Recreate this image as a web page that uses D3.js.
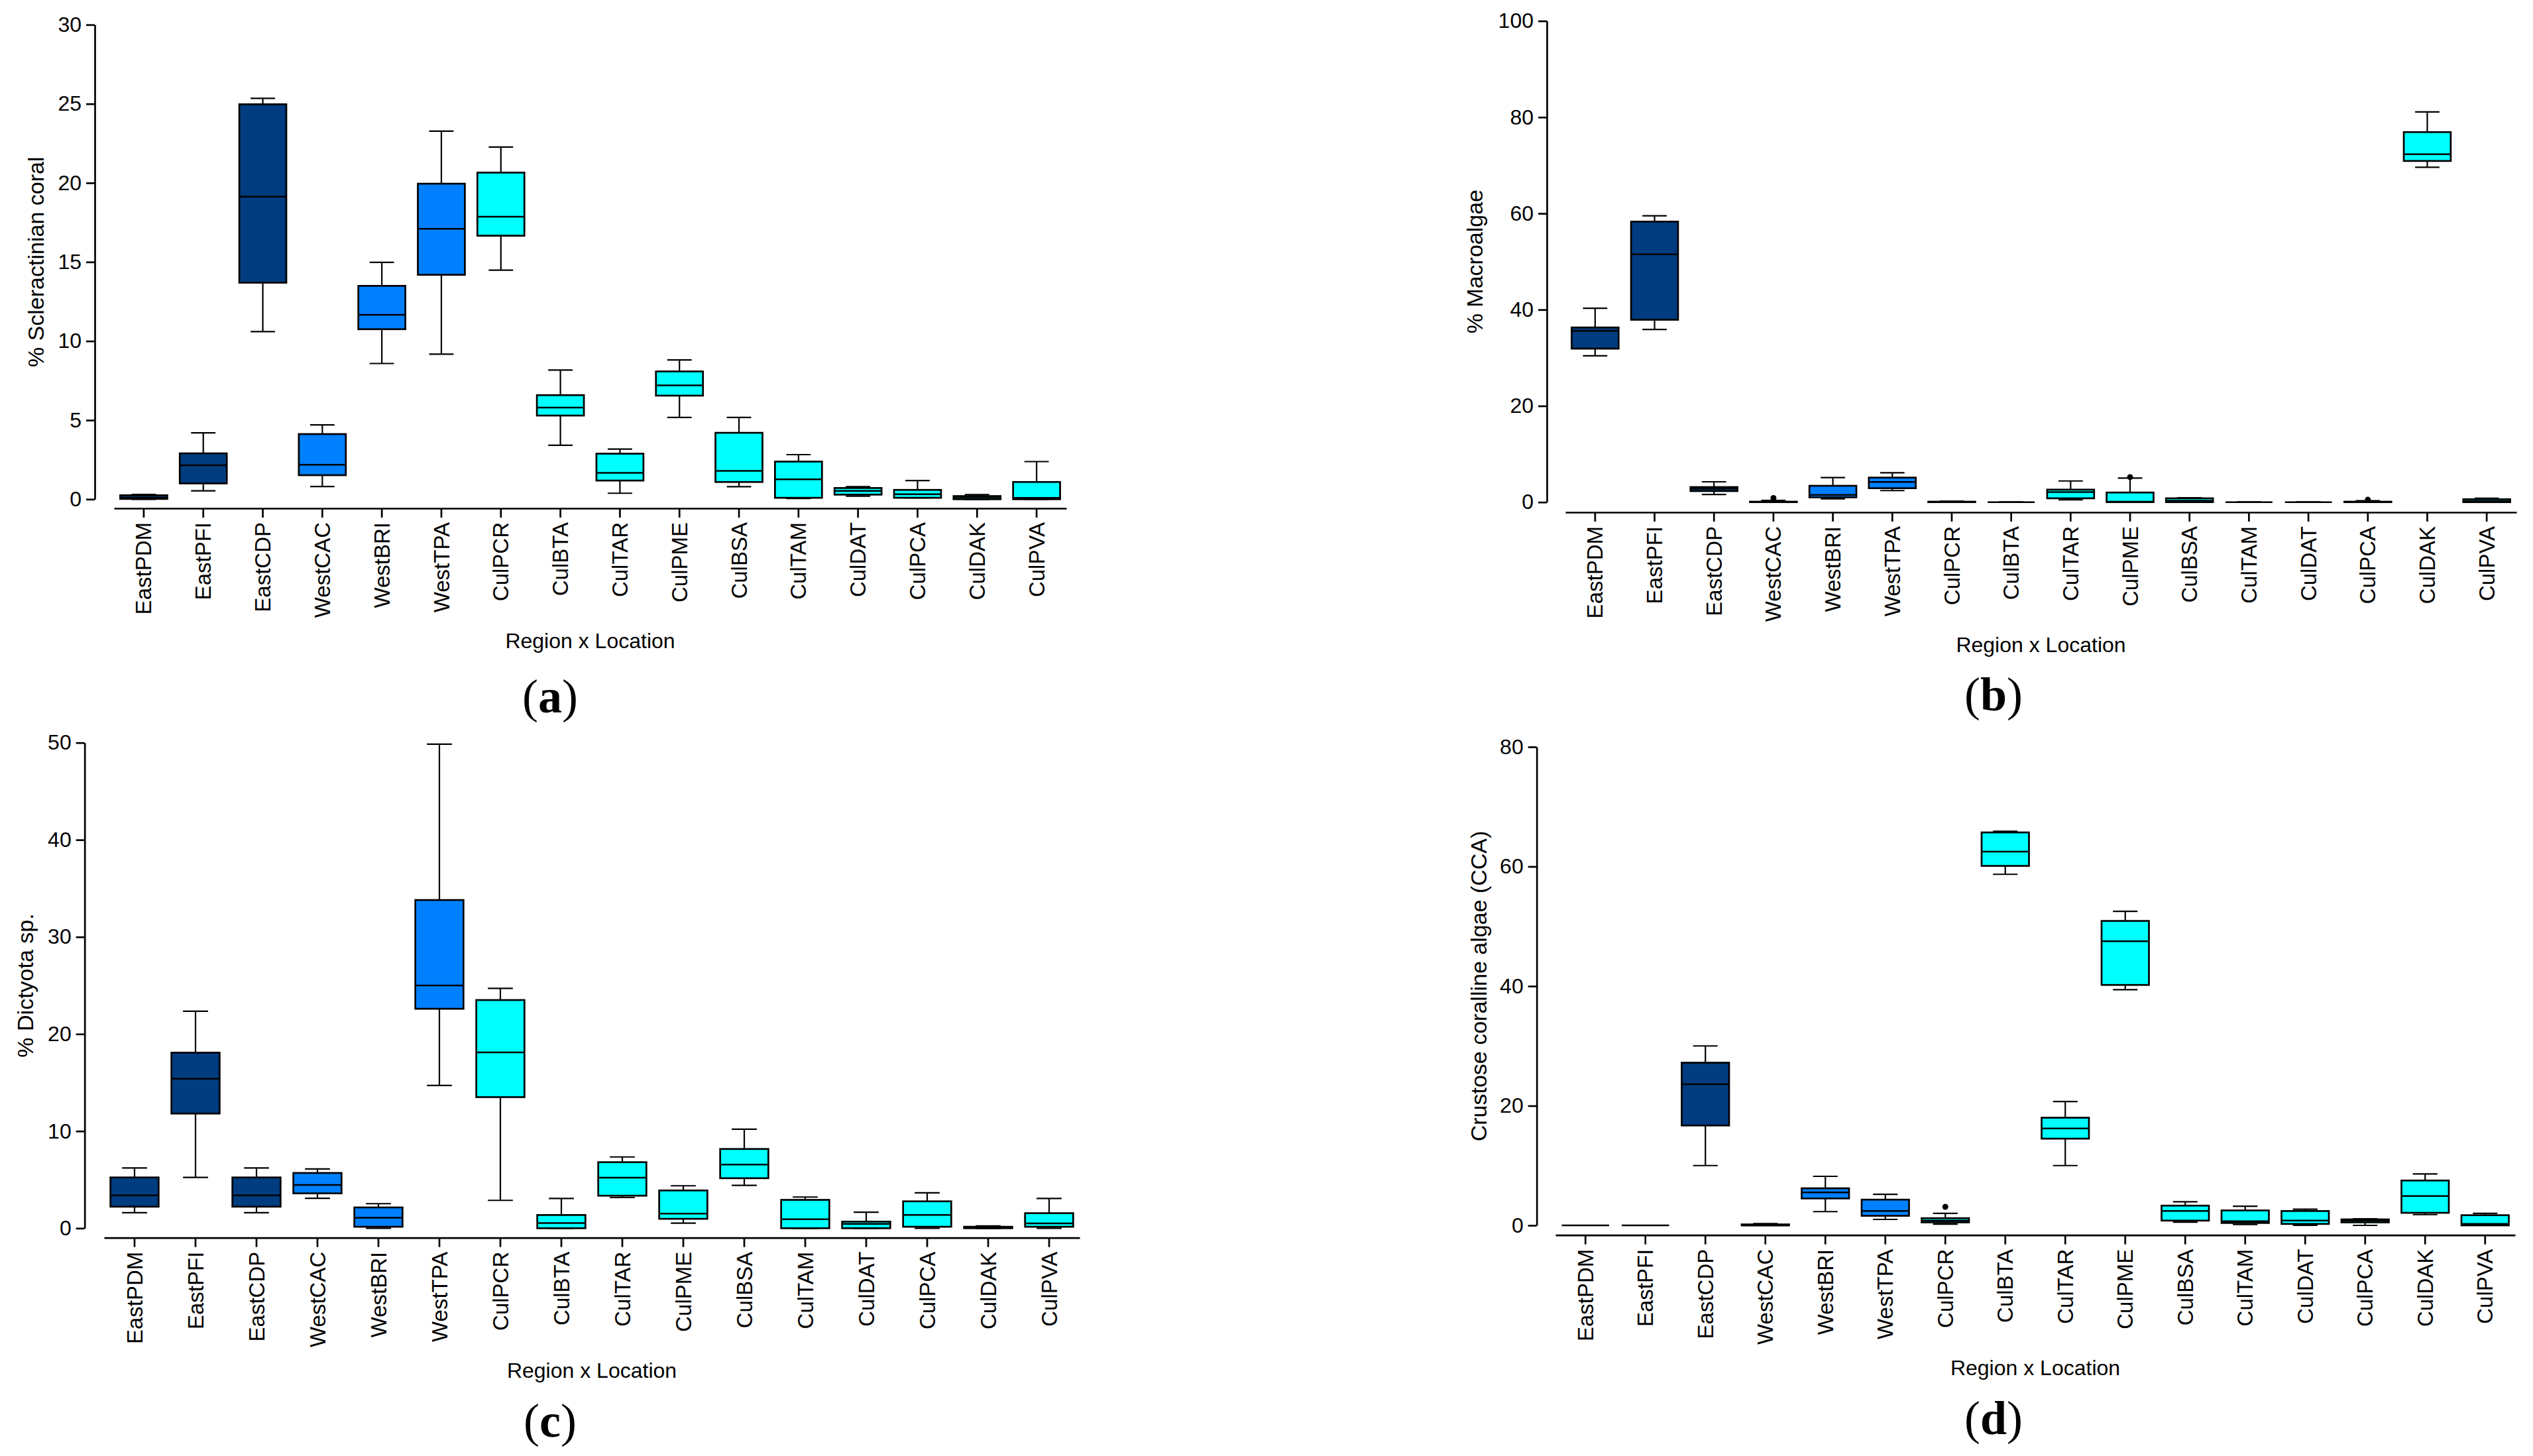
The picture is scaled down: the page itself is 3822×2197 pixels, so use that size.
<!DOCTYPE html>
<html>
<head>
<meta charset="utf-8">
<script src="https://cdn.jsdelivr.net/npm/d3@7"></script>
<style>
body { margin: 0; background: #fff; }
text { font-family: "Liberation Sans", Arial, sans-serif; fill: #000; }
</style>
</head>
<body>
<svg id="chart" width="3822" height="2197"></svg>
<script>
// categories along every x axis
const categories = ["EastPDM", "EastPFI", "EastCDP", "WestCAC", "WestBRI", "WestTPA",
    "CulPCR", "CulBTA", "CulTAR", "CulPME", "CulBSA", "CulTAM", "CulDAT", "CulPCA", "CulDAK", "CulPVA"]
const regions = ["East", "East", "East", "West", "West", "West",
    "Cul", "Cul", "Cul", "Cul", "Cul", "Cul", "Cul", "Cul", "Cul", "Cul"]

// box stats per category: [min, q1, median, q3, max]
const coralStats = [
    [0, 0.02, 0.1, 0.25, 0.3], [0.53, 1.0, 2.15, 2.9, 4.2], [10.6, 13.69, 19.13, 24.97, 25.35],
    [0.8, 1.52, 2.18, 4.12, 4.7], [8.58, 10.75, 11.66, 13.49, 14.98], [9.17, 14.19, 17.1, 19.95, 23.27],
    [14.48, 16.66, 17.86, 20.65, 22.27], [3.41, 5.29, 5.79, 6.58, 8.17], [0.38, 1.18, 1.67, 2.88, 3.17],
    [5.17, 6.55, 7.2, 8.08, 8.81], [0.79, 1.09, 1.79, 4.2, 5.17], [0.05, 0.09, 1.26, 2.38, 2.82],
    [0.2, 0.29, 0.53, 0.71, 0.79], [0.09, 0.09, 0.32, 0.59, 1.18], [0, 0, 0.12, 0.2, 0.29],
    [0, 0, 0.09, 1.09, 2.38]]
const macroStats = [
    [30.4, 31.9, 35.6, 36.3, 40.3], [35.9, 37.9, 51.5, 58.3, 59.5], [1.6, 2.3, 2.8, 3.13, 4.23],
    [0, 0, 0, 0.1, 0.35], [0.7, 1.0, 1.5, 3.4, 5.1], [2.4, 2.9, 4.2, 5.1, 6.1],
    [0, 0, 0, 0.1, 0.2], [0, 0, 0, 0, 0], [0.5, 0.8, 2.1, 2.6, 4.4],
    [0, 0, 0.1, 2.0, 5.0], [0, 0, 0.3, 0.8, 0.9], [0, 0, 0, 0, 0],
    [0, 0, 0, 0, 0], [0, 0, 0, 0.1, 0.3], [69.6, 70.9, 72.3, 76.9, 81.1],
    [0, 0, 0.2, 0.6, 0.8]]
const dictyotaStats = [
    [1.6, 2.22, 3.39, 5.23, 6.21], [5.23, 11.81, 15.4, 18.08, 22.35], [1.6, 2.22, 3.39, 5.23, 6.21],
    [3.09, 3.59, 4.46, 5.69, 6.1], [0, 0.15, 1.07, 2.14, 2.53], [14.7, 22.6, 25.0, 33.8, 49.85],
    [2.87, 13.5, 18.1, 23.5, 24.7], [0, 0, 0.53, 1.36, 3.06], [3.16, 3.35, 5.2, 6.8, 7.34],
    [0.53, 0.97, 1.51, 3.89, 4.37], [4.42, 5.15, 6.56, 8.16, 10.2], [0, 0, 0.92, 2.92, 3.21],
    [0, 0, 0.44, 0.68, 1.65], [0, 0.15, 1.36, 2.77, 3.64], [0, 0, 0.05, 0.15, 0.24],
    [0, 0.15, 0.49, 1.55, 3.06]]
const ccaStats = [
    [0, 0, 0, 0, 0], [0, 0, 0, 0, 0], [10.0, 16.7, 23.6, 27.2, 30.0],
    [0, 0, 0, 0.16, 0.3], [2.3, 4.5, 5.5, 6.2, 8.2], [1.0, 1.6, 2.4, 4.3, 5.2],
    [0.2, 0.5, 0.8, 1.2, 2.0], [58.7, 60.1, 62.5, 65.7, 65.9], [10.0, 14.5, 16.2, 18.0, 20.7],
    [39.4, 40.2, 47.5, 50.9, 52.5], [0.55, 0.8, 2.4, 3.3, 3.95], [0.16, 0.4, 0.7, 2.5, 3.2],
    [0, 0.24, 0.8, 2.4, 2.7], [0, 0.5, 0.8, 1.0, 1.1], [1.8, 2.1, 4.9, 7.5, 8.6],
    [0, 0, 0.24, 1.7, 2.0]]

// outlier points: [category, value]
const coralOutliers = []
const macroOutliers = [["WestCAC", 0.85], ["CulPME", 5.2], ["CulPCA", 0.5]]
const dictyotaOutliers = []
const ccaOutliers = [["CulPCR", 3.1]]

// y axis ticks
const coralTicks = [0, 5, 10, 15, 20, 25, 30]
const macroTicks = [0, 20, 40, 60, 80, 100]
const dictyotaTicks = [0, 10, 20, 30, 40, 50]
const ccaTicks = [0, 20, 40, 60, 80]

const regionColor = {East: "#003c7f", West: "#0080ff", Cul: "#00ffff"}

const panels = [
    {label: "a", stats: coralStats, outliers: coralOutliers, ticks: coralTicks, title: "% Scleractinian coral",
        axisX: 143, yTop: 37.3, yZero: 753.3, xLeft: 172, xRight: 1609, xAxisY: 767, titleX: 54, labelX: 830, labelY: 1075},
    {label: "b", stats: macroStats, outliers: macroOutliers, ticks: macroTicks, title: "% Macroalgae",
        axisX: 2334, yTop: 31.6, yZero: 757.7, xLeft: 2362, xRight: 3797, xAxisY: 773, titleX: 2225, labelX: 3008, labelY: 1072},
    {label: "c", stats: dictyotaStats, outliers: dictyotaOutliers, ticks: dictyotaTicks, title: "% Dictyota sp.",
        axisX: 127.7, yTop: 1120.7, yZero: 1853.3, xLeft: 157, xRight: 1629, xAxisY: 1867.7, titleX: 38, labelX: 830, labelY: 2168},
    {label: "d", stats: ccaStats, outliers: ccaOutliers, ticks: ccaTicks, title: "Crustose coralline algae (CCA)",
        axisX: 2318.7, yTop: 1127, yZero: 1849, xLeft: 2347, xRight: 3795, xAxisY: 1863.7, titleX: 2231, labelX: 3008, labelY: 2164}
]

const svg = d3.select("#chart")

panels.forEach(p => {
    let g = svg.append("g")

    let yScale = d3.scaleLinear()
        .domain([0, d3.max(p.ticks)])
        .range([p.yZero, p.yTop])

    let xScale = d3.scaleBand()
        .domain(categories)
        .range([p.xLeft, p.xRight])
        .padding(0)

    let bw = xScale.bandwidth()
    let boxW = bw * 0.79
    let capW = bw * 0.41
    let cx = d => xScale(d) + bw / 2

    let rows = p.stats.map((s, i) => ({cat: categories[i], region: regions[i],
        min: s[0], q1: s[1], median: s[2], q3: s[3], max: s[4]}))

    // y axis
    let yAxis = g.append("g")
        .attr("transform", `translate(${p.axisX},0)`)
        .call(d3.axisLeft(yScale).tickValues(p.ticks).tickSize(13).tickSizeOuter(0).tickPadding(7))
    yAxis.select(".domain").attr("stroke-width", 2.7)
    yAxis.selectAll(".tick line").attr("stroke-width", 2.7)
    yAxis.selectAll(".tick text")
        .attr("font-size", 32)
        .attr("font-family", "Liberation Sans, Arial, sans-serif")

    // x axis
    let xAxis = g.append("g")
        .attr("transform", `translate(0,${p.xAxisY})`)
        .call(d3.axisBottom(xScale).tickSize(14).tickSizeOuter(0))
    xAxis.select(".domain").attr("stroke-width", 2.7)
    xAxis.selectAll(".tick line").attr("stroke-width", 2.7)
    xAxis.selectAll(".tick text")
        .attr("font-size", 33)
        .attr("font-family", "Liberation Sans, Arial, sans-serif")
        .attr("transform", "rotate(-90)")
        .attr("text-anchor", "end")
        .attr("x", -21)
        .attr("y", 0)
        .attr("dy", "0.35em")

    // whiskers
    g.append("g").selectAll("line")
        .data(rows)
        .join("line")
        .attr("x1", d => cx(d.cat))
        .attr("x2", d => cx(d.cat))
        .attr("y1", d => yScale(d.min))
        .attr("y2", d => yScale(d.max))
        .attr("stroke", "black")
        .attr("stroke-width", 2.2)

    g.append("g").selectAll("line")
        .data(rows.flatMap(d => [{cat: d.cat, v: d.min}, {cat: d.cat, v: d.max}]))
        .join("line")
        .attr("x1", d => cx(d.cat) - capW / 2)
        .attr("x2", d => cx(d.cat) + capW / 2)
        .attr("y1", d => yScale(d.v))
        .attr("y2", d => yScale(d.v))
        .attr("stroke", "black")
        .attr("stroke-width", 2.2)

    // boxes
    g.append("g").selectAll("rect")
        .data(rows)
        .join("rect")
        .attr("x", d => cx(d.cat) - boxW / 2)
        .attr("y", d => yScale(d.q3))
        .attr("width", boxW)
        .attr("height", d => yScale(d.q1) - yScale(d.q3))
        .attr("fill", d => regionColor[d.region])
        .attr("stroke", "black")
        .attr("stroke-width", 2.7)

    // medians
    g.append("g").selectAll("line")
        .data(rows)
        .join("line")
        .attr("x1", d => cx(d.cat) - boxW / 2)
        .attr("x2", d => cx(d.cat) + boxW / 2)
        .attr("y1", d => yScale(d.median))
        .attr("y2", d => yScale(d.median))
        .attr("stroke", "black")
        .attr("stroke-width", 2.5)

    // outliers
    g.append("g").selectAll("circle")
        .data(p.outliers)
        .join("circle")
        .attr("cx", d => cx(d[0]))
        .attr("cy", d => yScale(d[1]))
        .attr("r", 4.5)
        .attr("fill", "black")

    // axis titles
    g.append("text")
        .attr("transform", `translate(${p.titleX},${(p.yTop + p.yZero) / 2}) rotate(-90)`)
        .attr("text-anchor", "middle")
        .attr("dy", "0.35em")
        .attr("font-size", 34)
        .text(p.title)

    g.append("text")
        .attr("x", (p.xLeft + p.xRight) / 2)
        .attr("y", p.xAxisY + 211)
        .attr("text-anchor", "middle")
        .attr("font-size", 32)
        .text("Region x Location")

    // panel letter
    let lab = g.append("text")
        .attr("x", p.labelX)
        .attr("y", p.labelY)
        .attr("text-anchor", "middle")
        .attr("font-size", 72)
        .style("font-family", "'Liberation Serif', 'Times New Roman', serif")
    lab.append("tspan").text("(")
    lab.append("tspan").attr("font-weight", "bold").text(p.label)
    lab.append("tspan").text(")")
})
</script>
</body>
</html>
